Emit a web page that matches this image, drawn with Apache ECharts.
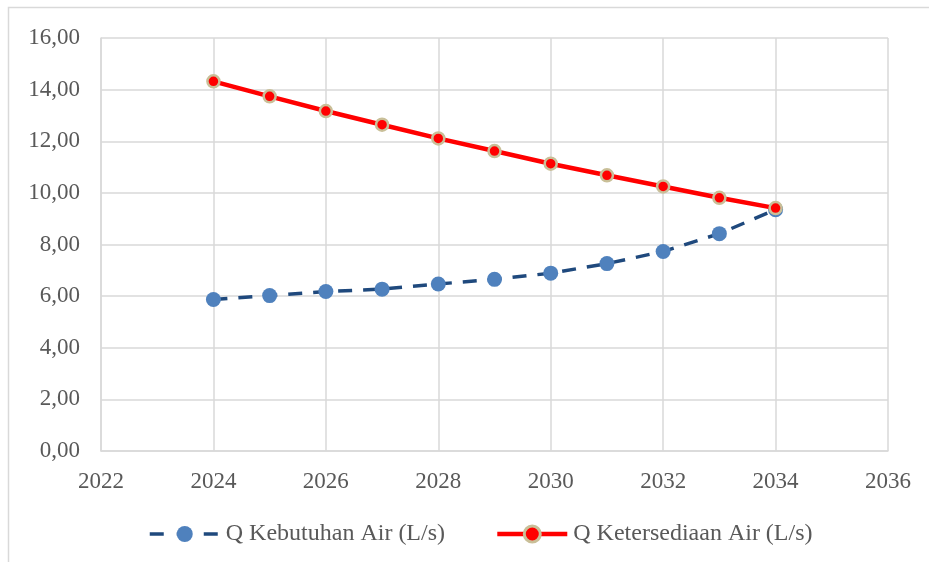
<!DOCTYPE html>
<html>
<head>
<meta charset="utf-8">
<script src="https://cdn.jsdelivr.net/npm/echarts@6/dist/echarts.min.js"></script>
<style>
html,body{margin:0;padding:0;background:#fff;}
#chart{width:929px;height:562px;}
</style>
</head>
<body>
<div id="chart"></div>
<script>
const years = [2024, 2025, 2026, 2027, 2028, 2029, 2030, 2031, 2032, 2033, 2034];
const kebutuhan = [5.87, 6.02, 6.18, 6.27, 6.47, 6.65, 6.89, 7.26, 7.73, 8.42, 9.35];
const ketersediaan = [14.32, 13.74, 13.17, 12.64, 12.11, 11.62, 11.13, 10.68, 10.25, 9.81, 9.41];
const seriesNames = ['Q Kebutuhan Air (L/s)', 'Q Ketersediaan Air (L/s)'];

const FONT = '"Liberation Serif", "Times New Roman", serif';
const chart = echarts.init(document.getElementById('chart'), null, {renderer: 'canvas'});
chart.setOption({
  animation: false,
  backgroundColor: '#fff',
  textStyle: {fontFamily: FONT},
  graphic: [{
    type: 'rect', silent: true, z: -10,
    shape: {x: 8.5, y: 7.5, width: 1000, height: 700},
    style: {fill: 'none', stroke: '#d9d9d9', lineWidth: 1.5}
  }],
  grid: {left: 101, top: 38, width: 787, height: 413},
  xAxis: {
    type: 'value', min: 2022, max: 2036, interval: 2,
    axisLine: {show: true, lineStyle: {color: '#d9d9d9', width: 1.5}},
    axisTick: {show: false},
    splitLine: {show: true, lineStyle: {color: '#d9d9d9', width: 1.5}},
    axisLabel: {color: '#595959', fontSize: 23, fontFamily: FONT, margin: 19,
      formatter: v => String(v)}
  },
  yAxis: {
    type: 'value', min: 0, max: 16, interval: 2,
    axisLine: {show: true, lineStyle: {color: '#d9d9d9', width: 1.5}},
    axisTick: {show: false},
    splitLine: {show: true, lineStyle: {color: '#d9d9d9', width: 1.5}},
    axisLabel: {color: '#595959', fontSize: 23, fontFamily: FONT, margin: 21,
      formatter: v => v.toFixed(2).replace('.', ',')}
  },
  legend: {
    bottom: 16, left: 148, padding: 0,
    itemWidth: 70, itemHeight: 20, itemGap: 50,
    textStyle: {color: '#595959', fontSize: 24, fontFamily: FONT, padding: [0, 0, 0, 1]},
    data: [
      {name: seriesNames[0], lineStyle: {width: 3.5, color: '#1f497d', type: [14, 13]}},
      {name: seriesNames[1], lineStyle: {width: 4.5, color: '#ff0000'},
        itemStyle: {color: '#ff0000', borderColor: '#c9bf98', borderWidth: 3}}
    ]
  },
  series: [
    {
      name: seriesNames[0], type: 'line',
      data: years.map((y, i) => [y, kebutuhan[i]]),
      symbol: 'circle', symbolSize: 15,
      itemStyle: {color: '#4f81bd', borderWidth: 0},
      lineStyle: {color: '#1f497d', width: 3.5, type: [14, 11]},
      z: 2
    },
    {
      name: seriesNames[1], type: 'line',
      data: years.map((y, i) => [y, ketersediaan[i]]),
      symbol: 'circle', symbolSize: 12,
      itemStyle: {color: '#ff0000', borderColor: '#c9bf98', borderWidth: 2.5},
      lineStyle: {color: '#ff0000', width: 4.5},
      z: 3
    }
  ]
});
</script>
</body>
</html>
